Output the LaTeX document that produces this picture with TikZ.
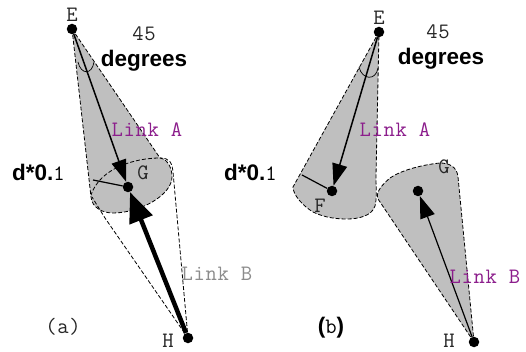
\documentclass[tikz,border=0pt]{standalone}
\usepackage{fontspec}
\setmainfont{Liberation Sans}
\newfontfamily\monof[LetterSpace=3]{Latin Modern Mono}
\usetikzlibrary{arrows.meta}
\definecolor{conegray}{gray}{0.75}
\definecolor{linkpurple}{RGB}{140,30,140}
\newcommand{\monotext}{\monof\fontsize{22}{22}\selectfont}
\newcommand{\boldtext}{\bfseries\fontsize{22.5}{22.5}\selectfont}
\tikzset{x=1pt,y=-1pt,
 dot/.style={circle,fill=black,inner sep=0pt,minimum size=10.5pt},
 cone/.style={fill=conegray,draw=black,line width=0.8pt,dash pattern=on 4pt off 2pt},
 thinc/.style={draw=black,line width=0.8pt,dash pattern=on 4pt off 2pt},
 mono/.style={font=\monotext,inner sep=0pt,text=black!85},
 bold/.style={font=\boldtext,inner sep=0pt},
 linkarrow/.style={-{Triangle[length=22pt,width=15pt]},line width=1.5pt},
 arcl/.style={line width=0.7pt}}
\begin{document}
\begin{tikzpicture}
\useasboundingbox (0,0) rectangle (526,352);
% (a)
\coordinate (Ea) at (72,29);
\coordinate (Ga) at (128,187);
\coordinate (Ha) at (188,338);
\fill[conegray] (Ea) -- (91,197) .. controls (92,208) and (103,213) .. (113,213) .. controls (140,213) and (172,195) .. (172,177) .. controls (172,165) and (165,158) .. (160,158) -- cycle;
\draw[thinc] (Ea) -- (91,197) .. controls (92,208) and (103,213) .. (113,213) .. controls (140,213) and (172,195) .. (172,177) .. controls (172,165) and (165,158) .. (160,158) .. controls (135,158) and (100,168) .. (91,195);
\draw[thinc] (Ea) -- (160,158);
\draw[thinc] (Ha) -- (105,218) -- (92,197);
\draw[thinc] (Ha) -- (173,172) .. controls (172,163) and (170,158) .. (160,158);
\node[dot] (ne) at (Ea) {};
\node[dot] (ng) at (Ga) {};
\node[dot] (nh) at (Ha) {};
\draw[linkarrow] (ne) -- (ng);
\draw[-{Triangle[length=30pt,width=24pt]},line width=4.5pt] (nh) -- (ng);
\coordinate (ra) at (93,180);
\draw[line width=1.2pt] (ng) -- (ra);
\draw[arcl] (78,62) .. controls (81,75) and (92,75) .. (94,62);
\node[mono] (ta) at (72,15) {E};
\node[mono] (tb) at (144,34) {45};
\node[bold] (tc) at (144,61) {degrees};
\node[font=\monotext,text=linkpurple,inner sep=0pt] (td) at (147,130) {Link A};
\node[font=\boldtext,inner sep=0pt,anchor=west] (te) at (12,172) {d*0.{\monotext\mdseries 1}};
\node[mono] (tf) at (143,173) {G};
\node[font=\monotext,text=black!45,inner sep=0pt] (tg) at (217,274) {Link B};
\node[mono] (th) at (63,327) {(a)};
\node[mono] (ti) at (168,341) {H};
% (b)
\coordinate (Eb) at (379,32);
\coordinate (Fb) at (332,191);
\coordinate (Gb) at (418,191);
\coordinate (Hb) at (474,342);
\draw[cone] (Eb) -- (293,187) .. controls (293,195) and (303,206) .. (313,212) .. controls (325,218) and (338,219) .. (347,219) .. controls (358,219) and (372,216) .. (375,206) .. controls (377,198) and (376,190) .. (376,176) -- cycle;
\draw[cone] (Hb) -- (378,199) .. controls (375,192) and (383,184) .. (390,178) .. controls (400,171) and (420,165) .. (440,163) .. controls (448,163) and (457,166) .. (458,177) -- cycle;
\node[dot] (ne2) at (Eb) {};
\node[dot] (nf2) at (Fb) {};
\node[dot] (ng2) at (Gb) {};
\node[dot] (nh2) at (Hb) {};
\draw[linkarrow] (ne2) -- (nf2);
\draw[linkarrow,line width=1.2pt] (nh2) -- (ng2);
\coordinate (rb) at (302,175);
\draw[line width=1.2pt] (nf2) -- (rb);
\draw[arcl] (359,67) .. controls (362,80) and (376,81) .. (378,68);
\node[mono] (tj) at (379,18) {E};
\node[mono] (tk) at (438,32) {45};
\node[bold] (tl) at (441,59) {degrees};
\node[font=\monotext,text=linkpurple,inner sep=0pt] (tm) at (395,130) {Link A};
\node[font=\boldtext,inner sep=0pt,anchor=west] (tn) at (224,172) {d*0.{\monotext\mdseries 1}};
\node[mono] (to) at (444,167) {G};
\node[mono] (tp) at (320,206) {F};
\node[font=\monotext,text=linkpurple,inner sep=0pt] (tq) at (485,277) {Link B};
\node[font=\boldtext,inner sep=0pt] (tr) at (331,328) {({\monotext\mdseries b})};
\node[mono] (ts) at (449,341) {H};
\end{tikzpicture}
\end{document}
